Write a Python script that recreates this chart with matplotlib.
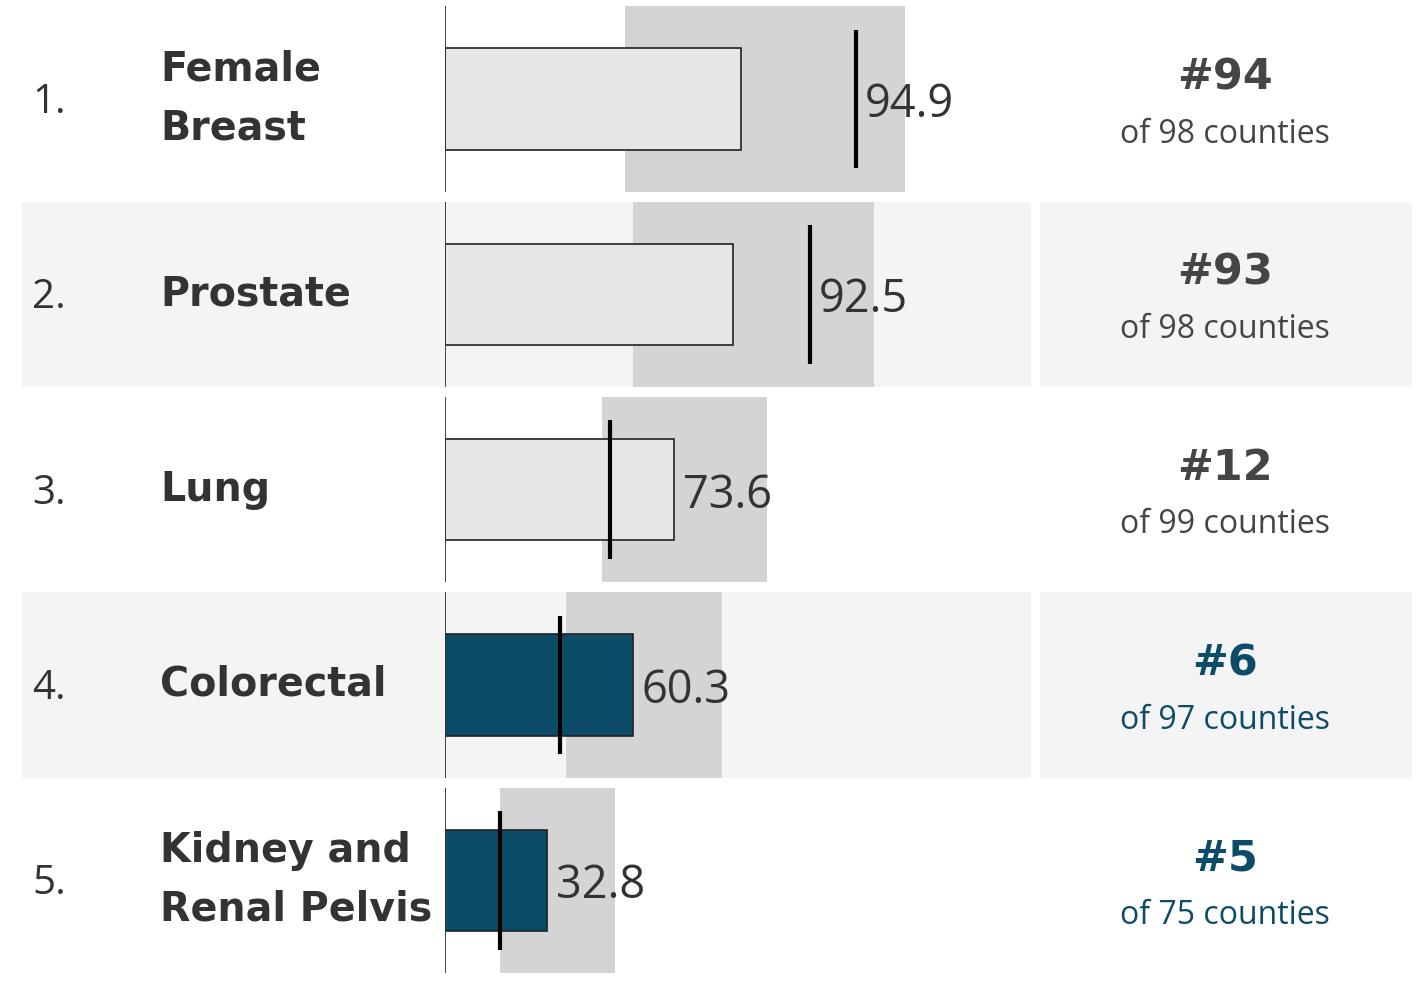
import matplotlib.pyplot as plt
import numpy as np
from matplotlib.patches import Rectangle
from matplotlib.transforms import blended_transform_factory

ranks_order = ["1.", "2.", "3.", "4.", "5."]
sites = ["Female\nBreast", "Prostate", "Lung", "Colorectal", "Kidney and\nRenal Pelvis"]
county_rate = [94.9, 92.5, 73.6, 60.3, 32.8]
state_rate = [131.9, 117.2, 53.0, 36.9, 17.7]
range_lo = [57.8, 60.4, 50.4, 38.8, 17.7]
range_hi = [147.7, 137.7, 103.4, 88.9, 54.6]
county_rank = ["#94", "#93", "#12", "#6", "#5"]
n_counties = [98, 98, 99, 97, 75]
highlight = [False, False, False, True, True]

TXT = "#333333"
RANKTXT = "#454545"
TEAL = "#0d4c69"
BAND = "#f4f4f4"

fig = plt.figure(figsize=(14.18, 9.89), dpi=100)
ax = fig.add_axes([445/1418, 11/989, 586/1418, 976.7/989])
ax.patch.set_visible(False)
ax.set_xlim(0, 188.1)
ax.set_ylim(4.5, -0.5)
ax.axis("off")

blend = blended_transform_factory(fig.transFigure, ax.transData)
y = np.arange(len(sites))
h = 0.95

for i in y:
    # alternating row bands
    if i % 2 == 1:
        ax.add_patch(Rectangle((22/1418, i - h/2), (1031-22)/1418, h, transform=blend,
                               facecolor=BAND, edgecolor="none", clip_on=False, zorder=0))
        ax.add_patch(Rectangle((1040/1418, i - h/2), (1412-1040)/1418, h, transform=blend,
                               facecolor=BAND, edgecolor="none", clip_on=False, zorder=0))

ax.barh(y, np.array(range_hi) - np.array(range_lo), left=range_lo, height=h,
        color="#d4d4d4", zorder=1)
bar_colors = [TEAL if hl else "#e6e6e6" for hl in highlight]
ax.barh(y, county_rate, height=0.52, color=bar_colors, edgecolor="#222222",
        linewidth=1.2, zorder=2)
ax.vlines(state_rate, y - 0.355, y + 0.355, color="black", linewidth=3, zorder=3)
ax.vlines(np.zeros(len(y)), y - h/2, y + h/2, color="#333333", linewidth=1.3, zorder=4)

for i in y:
    xt = max(county_rate[i], state_rate[i]) + 2.8
    ax.text(xt, i + 0.03, f"{county_rate[i]:.1f}", va="center", ha="left",
            fontsize=32.5, color=TXT, family="Open Sans", zorder=5)
    ax.text(32/1418, i + 0.02, ranks_order[i], transform=blend, va="center", ha="left",
            fontsize=29, color=TXT, family="Open Sans")
    ax.text(160/1418, i + 0.0, sites[i], transform=blend, va="center", ha="left",
            fontsize=28.5, color=TXT, family="DejaVu Sans", fontweight="heavy",
            linespacing=1.62)
    c = TEAL if highlight[i] else RANKTXT
    ax.text(1225/1418, i - 0.11, county_rank[i], transform=blend, va="center", ha="center",
            fontsize=31, color=c, family="DejaVu Sans", fontweight="heavy")
    ax.text(1225/1418, i + 0.18, f"of {n_counties[i]} counties", transform=blend,
            va="center", ha="center", fontsize=23, color=c, family="Open Sans")

fig.savefig("out.png", dpi=100)
